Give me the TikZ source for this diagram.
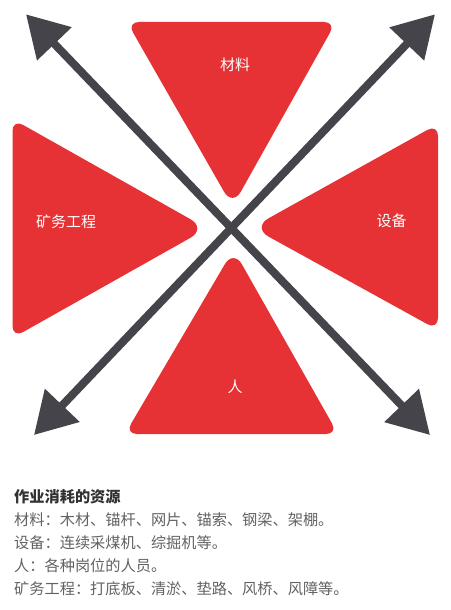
\documentclass[tikz,border=0pt]{standalone}
\usepackage{fontspec}
\setmainfont{Noto Sans CJK SC}
\usetikzlibrary{calc,arrows.meta}
\definecolor{trired}{RGB}{231,50,53}
\definecolor{arrowgray}{RGB}{68,68,74}
\definecolor{bodygray}{RGB}{98,98,98}
\definecolor{titlegray}{RGB}{50,50,50}
% #1 apex, #2 and #3 base corners, #4 apex cut, #5 apex control
\newcommand\drawroundtri[5]{%
  \fill[trired]
    ($(#2)!12pt!(#3)$) -- ($(#3)!12pt!(#2)$)
    .. controls ($(#3)!5.4pt!(#2)$) and ($(#3)!5.4pt!(#1)$) .. ($(#3)!12pt!(#1)$)
    -- ($(#1)!#4!(#3)$)
    .. controls ($(#1)!#5!(#3)$) and ($(#1)!#5!(#2)$) .. ($(#1)!#4!(#2)$)
    -- ($(#2)!12pt!(#1)$)
    .. controls ($(#2)!5.4pt!(#1)$) and ($(#2)!5.4pt!(#3)$) .. ($(#2)!12pt!(#3)$) -- cycle;}
\tikzset{
  bigarrow/.style={draw=arrowgray, fill=arrowgray, line width=8pt,
    arrows={Triangle[length=41pt,width=46pt]-Triangle[length=41pt,width=46pt]}},
  tlabel/.style={text=white, inner sep=0pt, font=\fontsize{15}{18}\selectfont},
  bodytext/.style={anchor=base west, inner sep=0pt, text=bodygray, font=\fontsize{15.2}{18}\selectfont},
  titletext/.style={bodytext, text=titlegray, font=\fontsize{15.2}{18}\selectfont\bfseries}
}
\begin{document}
\begin{tikzpicture}[x=1pt,y=-1pt]
\useasboundingbox (0,0) rectangle (450,610);
\fill[white] (0,0) rectangle (450,610);
% triangle vertices
\coordinate (tA) at (232.5,206.5);
\coordinate (tB) at (127,22);
\coordinate (tC) at (336,22);
\coordinate (bA) at (233.5,249.5);
\coordinate (bB) at (125,434);
\coordinate (bC) at (338,434);
\coordinate (lA) at (207,228.5);
\coordinate (lB) at (12.5,119);
\coordinate (lC) at (12.5,338);
\coordinate (rA) at (252,227.5);
\coordinate (rB) at (438,124);
\coordinate (rC) at (438,330);
\drawroundtri{tA}{tB}{tC}{17pt}{7.6pt}
\drawroundtri{bA}{bB}{bC}{17pt}{7.6pt}
\drawroundtri{lA}{lB}{lC}{19pt}{8.5pt}
\drawroundtri{rA}{rB}{rC}{19pt}{8.5pt}
% labels
\node[tlabel] (cailiao) at (235,65) {材料};
\node[tlabel] (kuangwu) at (66,221.5) {矿务工程};
\node[tlabel] (shebei) at (391.5,220.5) {设备};
\node[tlabel] (ren) at (235,386.5) {人};
% arrows
\coordinate (tl) at (26,14.3);
\coordinate (br) at (430,435);
\coordinate (tr) at (435,14.3);
\coordinate (bl) at (34,435);
\draw[bigarrow] (tl) -- (br);
\draw[bigarrow] (tr) -- (bl);
% description
\node[titletext] (title) at (14,502) {作业消耗的资源};
\node[bodytext] (line1) at (14,525) {材料：木材、锚杆、网片、锚索、钢梁、架棚。};
\node[bodytext] (line2) at (14,548) {设备：连续采煤机、综掘机等。};
\node[bodytext] (line3) at (14,571) {人：各种岗位的人员。};
\node[bodytext] (line4) at (14,594) {矿务工程：打底板、清淤、垫路、风桥、风障等。};
\end{tikzpicture}
\end{document}
